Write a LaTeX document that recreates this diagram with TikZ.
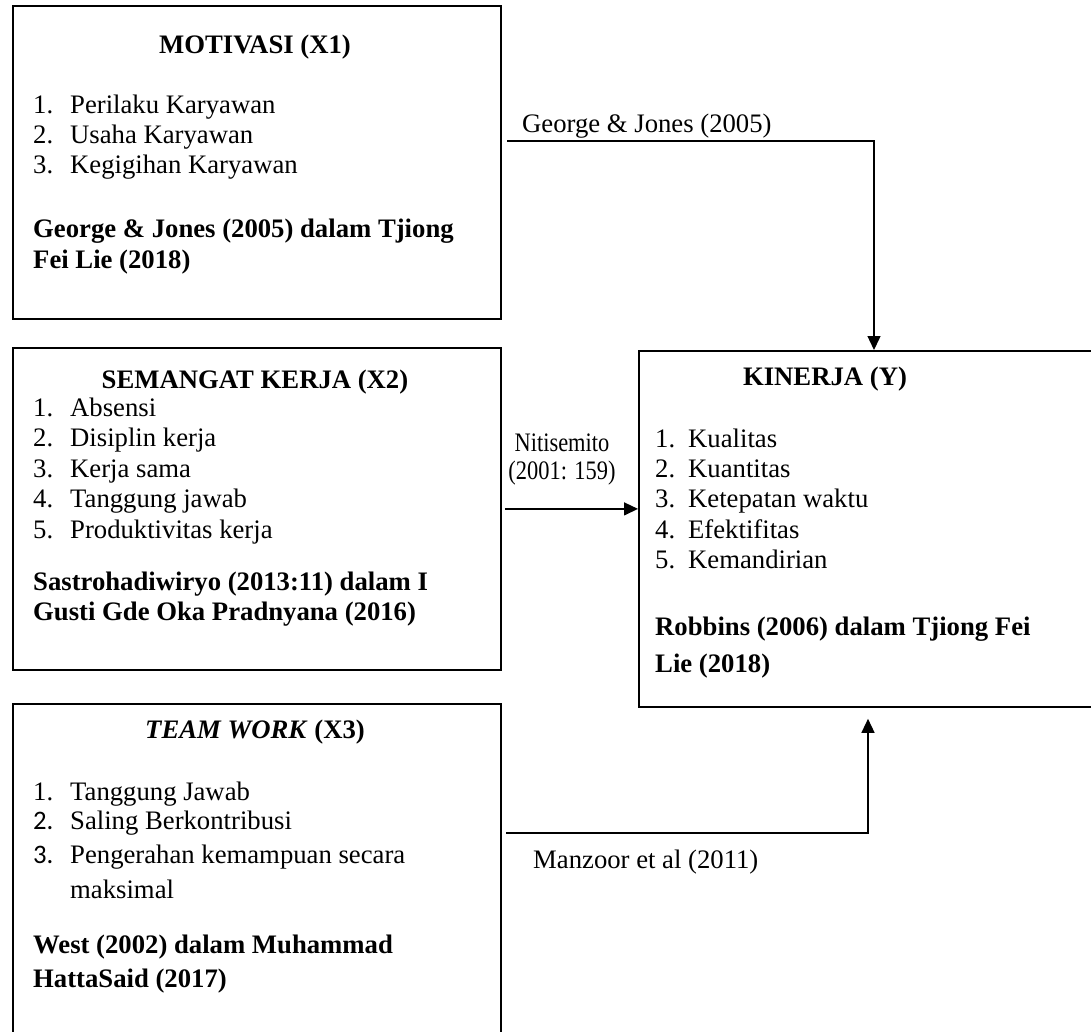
\documentclass[tikz,border=0pt]{standalone}
\usepackage{fontspec}
\setmainfont{Liberation Serif}
\newfontfamily\numsans{Carlito}
\usetikzlibrary{arrows.meta,positioning}

\begin{document}
\begin{tikzpicture}[x=1pt,y=-1pt,
    font=\fontsize{26.7}{30}\selectfont,
    box/.style={draw, line width=1.8pt, anchor=north west, inner sep=0pt},
    txt/.style={anchor=base west, inner sep=0pt},
    ttl/.style={anchor=base, inner sep=0pt, font=\fontsize{26.7}{30}\selectfont\bfseries},
    arr/.style={line width=1.4pt, -{Triangle[width=13pt,length=14pt]}}
  ]
  \useasboundingbox (0,0) rectangle (1091,1031);
  \clip (0,0) rectangle (1091,1031);

  % the four boxes
  \node[box, minimum width=488pt, minimum height=313pt] (mot) at (12,5) {};
  \node[box, minimum width=488pt, minimum height=322pt] (sem) at (12,347) {};
  \node[box, minimum width=488pt, minimum height=342pt] (tw) at (12,703) {};
  \node[box, minimum width=462pt, minimum height=356pt] (kin) at (638,350) {};

  % motivasi
  \node[ttl] (motT) at (255,53) {MOTIVASI (X1)};
  \foreach \t [count=\i] in {Perilaku Karyawan, Usaha Karyawan, Kegigihan Karyawan}
    \node[txt] (mot\i) at (33,83+30*\i) {\makebox[37pt][l]{\i.}\t};
  \node[txt] (motS1) at (33,237) {\bfseries George \& Jones (2005) dalam Tjiong};
  \node[txt] (motS2) at (33,268) {\bfseries Fei Lie (2018)};

  % semangat kerja
  \node[ttl] (semT) at (255,388) {SEMANGAT KERJA (X2)};
  \foreach \t [count=\i] in {Absensi, Disiplin kerja, Kerja sama, Tanggung jawab, Produktivitas kerja}
    \node[txt] (sem\i) at (33,385.5+30.5*\i) {\makebox[37pt][l]{\i.}\t};
  \node[txt] (semS1) at (33,590) {\bfseries Sastrohadiwiryo (2013:11) dalam I};
  \node[txt] (semS2) at (33,620) {\bfseries Gusti Gde Oka Pradnyana (2016)};

  % team work
  \node[ttl] (twT) at (255,738) {\textit{TEAM WORK} (X3)};
  \node[txt] (tw1) at (33,800) {\makebox[37pt][l]{1.}Tanggung Jawab};
  \node[txt] (tw2) at (33,829) {\makebox[37pt][l]{\numsans 2.}Saling Berkontribusi};
  \node[txt] (tw3) at (33,863) {\makebox[37pt][l]{\numsans 3.}Pengerahan kemampuan secara};
  \node[txt] (tw4) at (70,898) {maksimal};
  \node[txt] (twS1) at (33,953) {\bfseries West (2002) dalam Muhammad};
  \node[txt] (twS2) at (33,987) {\bfseries HattaSaid (2017)};

  % kinerja
  \node[ttl] (kinT) at (825,385) {KINERJA (Y)};
  \foreach \t [count=\i] in {Kualitas, Kuantitas, Ketepatan waktu, Efektifitas, Kemandirian}
    \node[txt] (kin\i) at (655,416.8+30.3*\i) {\makebox[33pt][l]{\i.}\t};
  \node[txt] (kinS1) at (655,635) {\bfseries Robbins (2006) dalam Tjiong Fei};
  \node[txt] (kinS2) at (655,672) {\bfseries Lie (2018)};

  % connectors
  \coordinate (c1) at (507,141);
  \coordinate (c3) at (506,833);
  \draw[arr] (c1) -| ([xshift=236pt]kin.north west);
  \draw[arr] ([xshift=3pt]sem.east) -- (sem.east -| kin.west);
  \draw[arr] (c3) -| ([shift={(230pt,-11pt)}]kin.south west);

  \node[txt] (lbl1) at (522,132) {George \& Jones (2005)};
  \node[align=center, inner sep=0pt, font=\fontsize{26.7}{28}\selectfont] (lbl2) at (562,459)
    {\scalebox{0.84}[1]{Nitisemito}\\\scalebox{0.84}[1]{(2001: 159)}};
  \node[txt] (lbl3) at (533,868) {Manzoor et al (2011)};
\end{tikzpicture}
\end{document}
